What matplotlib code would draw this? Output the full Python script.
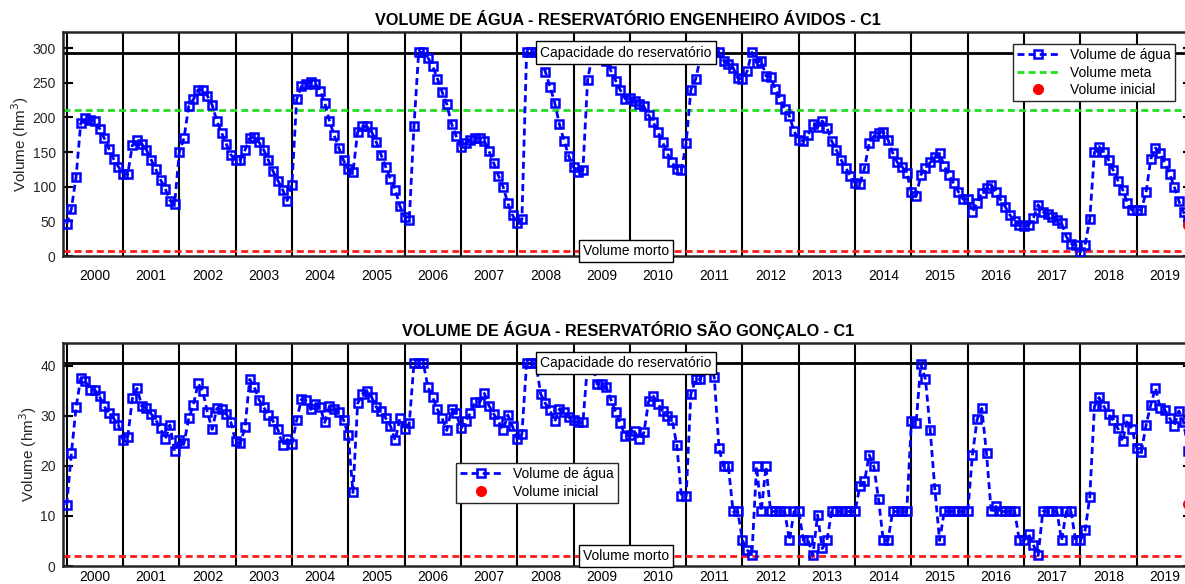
import numpy as np
import matplotlib.pyplot as plt

plt.rcParams['font.family'] = ['Liberation Sans', 'DejaVu Sans']

# meses de jan/2000 a dez/2019
anos = list(range(2000, 2020))
x = 2000 + np.arange(240) / 12

# Reservatório Engenheiro Ávidos (hm3)
vol_avidos = [
    46, 68, 114, 192, 199, 196, 195, 184, 170, 155, 140, 129,
    119, 118, 160, 168, 162, 153, 139, 125, 110, 97, 80, 75,
    150, 170, 216, 226, 240, 240, 231, 218, 195, 178, 162, 146,
    139, 139, 153, 170, 172, 164, 153, 138, 122, 109, 96, 80,
    103, 226, 245, 248, 251, 249, 238, 221, 195, 174, 156, 138,
    125, 121, 179, 187, 187, 179, 164, 146, 128, 111, 96, 72,
    57, 52, 187, 294, 294, 286, 274, 256, 237, 219, 191, 173,
    158, 163, 167, 171, 170, 166, 151, 134, 116, 100, 76, 59,
    48, 53, 294, 294, 294, 285, 266, 244, 221, 190, 166, 144,
    128, 121, 124, 254, 290, 294, 294, 282, 267, 253, 239, 227,
    228, 224, 219, 216, 203, 193, 179, 164, 148, 135, 125, 124,
    163, 240, 255, 285, 294, 294, 294, 294, 282, 277, 272, 257,
    255, 267, 294, 279, 282, 260, 258, 241, 227, 212, 202, 180,
    168, 166, 175, 190, 186, 195, 185, 166, 153, 139, 127, 116,
    105, 104, 127, 163, 173, 178, 179, 168, 149, 135, 129, 120,
    92, 86, 117, 127, 135, 143, 148, 130, 117, 105, 93, 82,
    82, 64, 77, 91, 98, 103, 92, 81, 71, 59, 50, 45,
    43, 45, 55, 74, 64, 60, 57, 52, 47, 28, 18, 16,
    6, 16, 53, 150, 158, 150, 139, 124, 109, 96, 77, 66,
    66, 67, 92, 140, 156, 149, 134, 119, 100, 79, 63, 52,
]
cap_avidos = 293.6
meta_avidos = 211.4
morto_avidos = 7.2
inicial_avidos = 45

# Reservatório São Gonçalo (hm3)
vol_sg = [
    12.2, 22.5, 31.7, 37.5, 36.9, 35.2, 35.2, 33.9, 31.9, 30.5, 29.5, 28.2,
    25.2, 25.7, 33.5, 35.5, 32.0, 31.5, 30.4, 29.2, 27.5, 25.3, 28.2, 22.9,
    25.2, 24.5, 29.5, 32.2, 36.5, 34.9, 30.7, 27.3, 31.5, 31.3, 30.4, 28.7,
    24.9, 24.5, 27.7, 37.3, 35.7, 33.2, 31.7, 30.2, 28.9, 27.3, 24.2, 25.3,
    24.4, 29.1, 33.3, 33.1, 31.3, 32.4, 31.7, 28.7, 32.0, 31.3, 30.7, 29.2,
    26.1, 14.7, 32.5, 34.4, 34.9, 33.7, 31.7, 30.9, 29.5, 28.0, 25.1, 29.5,
    27.3, 28.5, 40.5, 40.5, 40.5, 35.7, 33.7, 31.3, 29.5, 27.1, 31.3, 30.5,
    27.5, 28.9, 30.5, 32.7, 32.7, 34.5, 32.0, 30.4, 28.9, 27.2, 30.2, 27.9,
    25.3, 26.4, 40.5, 40.5, 40.5, 34.4, 32.5, 31.1, 28.9, 31.4, 30.7, 29.7,
    29.1, 28.7, 28.7, 40.5, 40.5, 36.4, 36.4, 35.7, 33.2, 30.7, 28.5, 26.0,
    26.2, 26.9, 25.3, 26.7, 32.9, 34.0, 32.4, 30.9, 30.0, 29.2, 24.2, 13.9,
    13.9, 34.4, 37.3, 37.3, 40.5, 40.5, 37.7, 23.5, 19.9, 19.9, 10.9, 10.9,
    5.1, 3.2, 2.1, 19.9, 10.9, 19.9, 10.9, 10.9, 10.9, 10.9, 5.1, 10.9,
    10.9, 5.1, 5.1, 2.1, 10.2, 3.5, 5.1, 10.9, 10.9, 10.9, 10.9, 10.9,
    10.9, 15.9, 16.9, 22.2, 19.9, 13.3, 5.1, 5.1, 10.9, 10.9, 10.9, 10.9,
    28.9, 28.5, 40.4, 37.3, 27.2, 15.3, 5.1, 10.9, 10.9, 10.9, 10.9, 10.9,
    10.9, 22.2, 29.3, 31.5, 22.5, 10.9, 11.9, 10.9, 10.9, 10.9, 10.9, 5.1,
    5.1, 6.4, 4.2, 2.1, 10.9, 10.9, 10.9, 10.9, 5.1, 10.9, 10.9, 5.1,
    5.1, 7.1, 13.7, 31.9, 33.7, 31.9, 30.3, 29.1, 27.5, 24.9, 29.3, 27.3,
    23.6, 22.8, 28.2, 32.2, 35.6, 31.6, 31.2, 29.6, 28.0, 31.0, 28.8, 22.9,
]
cap_sg = 40.58
morto_sg = 2.0
inicial_sg = 12.4

W, H = 1185, 584
cinza = '#262626'


def painel(ax, vol, cap, morto, inicial, meta, titulo, yticks, pad_x):
    for a in anos:
        ax.axvline(a, color='k', lw=1.5, zorder=1)
    ax.axhline(cap, color='k', lw=2, zorder=2)
    handles = []
    l_agua, = ax.plot(x, vol, color='blue', ls=(0, (2.5, 1.5)), lw=2, marker='s',
                      ms=6, mew=1.8, mfc='none', zorder=3, label='Volume de água')
    handles.append(l_agua)
    if meta is not None:
        l_meta = ax.axhline(meta, color='#22dd22', lw=2, ls=(0, (2.5, 1.5)),
                            zorder=2, label='Volume meta')
        handles.append(l_meta)
    ax.axhline(morto, color='#ff1a1a', lw=2, ls=(0, (2.5, 1.5)), zorder=2)
    l_ini, = ax.plot([x[-1]], [inicial], 'o', color='red', ms=7, zorder=4,
                     label='Volume inicial', clip_on=False)
    handles.append(l_ini)

    caixa = dict(boxstyle='square,pad=0.3', fc='white', ec='k', lw=1)
    ax.text(2009.93, cap, 'Capacidade do reservatório', ha='center', va='center',
            fontsize=10, bbox=caixa, zorder=6)
    ax.text(2009.93, morto, 'Volume morto', ha='center', va='center',
            fontsize=10, bbox=caixa, zorder=6)

    ax.set_xlim(1999.94, 2020.0)
    ax.set_ylim(0, 1.1 * cap)
    ax.set_xticks([a + 0.5 for a in anos])
    ax.set_xticklabels([str(a) for a in anos])
    ax.set_yticks(yticks)
    ax.tick_params(axis='x', length=0, labelsize=10, pad=pad_x, colors=cinza,
                   labelcolor='black')
    ax.tick_params(axis='y', direction='in', length=7, width=1.5, right=True,
                   labelsize=10, pad=5.5, colors='black', labelcolor=cinza)
    for s in ax.spines.values():
        s.set_linewidth(1.8)
        s.set_color(cinza)
    ax.set_ylabel('Volume (hm$^3$)', fontsize=11, color=cinza, labelpad=1)
    ax.set_title(titulo, fontsize=11.7, fontweight='bold', pad=5)
    return handles


fig = plt.figure(figsize=(W / 100, H / 100), dpi=100)
esq = 63.3 / W
larg = (1193 - 63.3) / W

ax1 = fig.add_axes([esq, 1 - 256 / H, larg, (256 - 32.3) / H])
h1 = painel(ax1, vol_avidos, cap_avidos, morto_avidos, inicial_avidos, meta_avidos,
            'VOLUME DE ÁGUA - RESERVATÓRIO ENGENHEIRO ÁVIDOS - C1',
            [0, 50, 100, 150, 200, 250, 300], 9)
leg1 = ax1.legend(handles=h1, loc='upper right', bbox_to_anchor=(1175 / W, 1 - 44 / H),
                  bbox_transform=fig.transFigure, borderaxespad=0, fontsize=10,
                  fancybox=False, edgecolor=cinza, framealpha=1, handlelength=3.0,
                  labelspacing=0.25, borderpad=0.3)
leg1.get_frame().set_linewidth(1)

ax2 = fig.add_axes([esq, 1 - 566 / H, larg, (566 - 342.7) / H])
h2 = painel(ax2, vol_sg, cap_sg, morto_sg, inicial_sg, None,
            'VOLUME DE ÁGUA - RESERVATÓRIO SÃO GONÇALO - C1',
            [0, 10, 20, 30, 40], 3)
leg2 = ax2.legend(handles=h2, loc='upper left', bbox_to_anchor=(456 / W, 1 - 463 / H),
                  bbox_transform=fig.transFigure, borderaxespad=0, fontsize=10,
                  fancybox=False, edgecolor=cinza, framealpha=1, handlelength=3.0,
                  labelspacing=0.25, borderpad=0.3)
leg2.get_frame().set_linewidth(1)

fig.savefig('out.png', dpi=100)
